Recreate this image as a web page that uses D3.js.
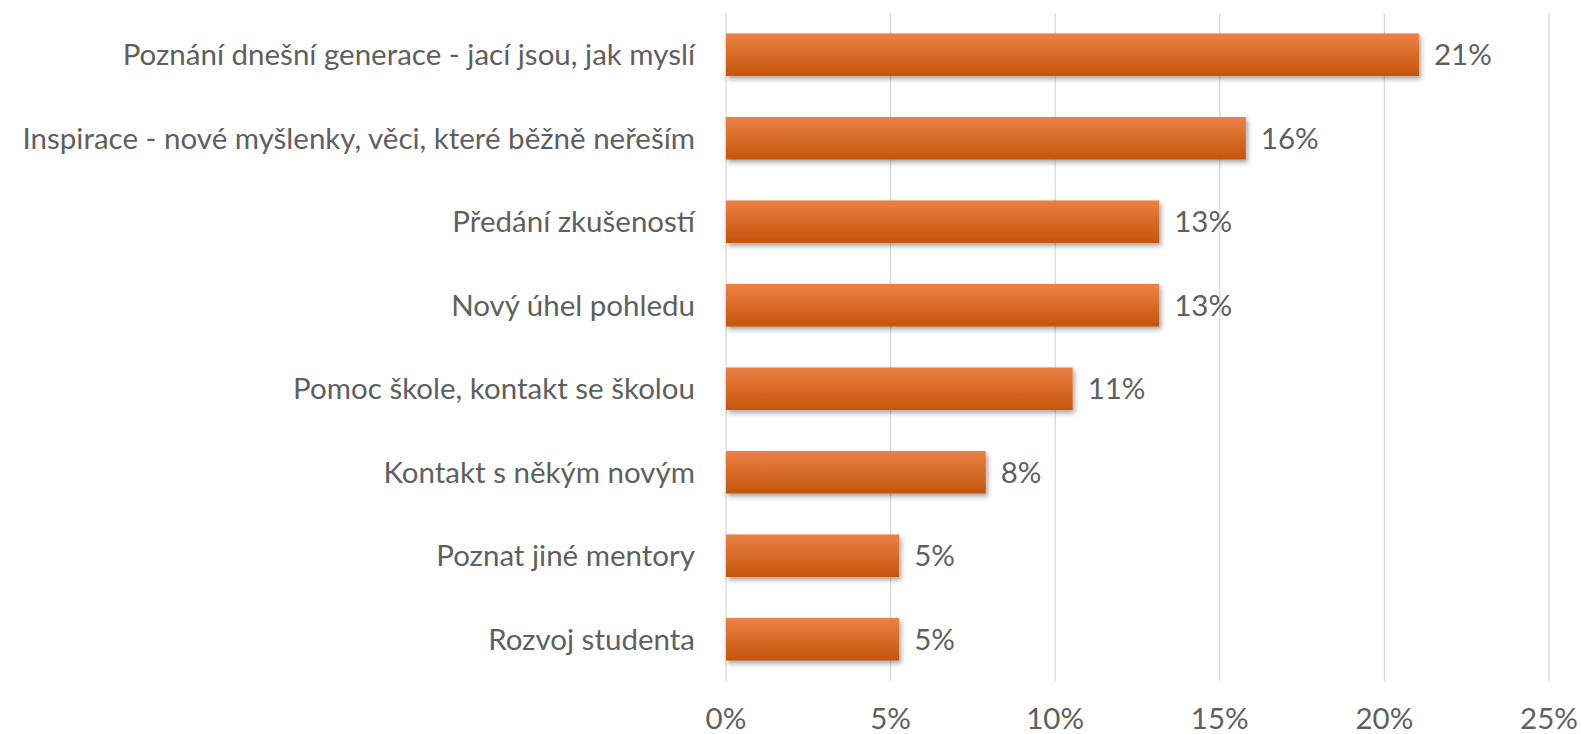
<!DOCTYPE html>
<html>
<head>
<meta charset="utf-8">
<script src="https://d3js.org/d3.v7.min.js"></script>
<style>
  html, body { margin: 0; padding: 0; background: #fff; }
  svg { display: block; font-family: "Lato", "Open Sans", sans-serif; }
</style>
</head>
<body>
<svg id="chart" width="1581" height="734"></svg>
<script>
// Data
const categories = [
    "Poznání dnešní generace - jací jsou, jak myslí",
    "Inspirace - nové myšlenky, věci, které běžně neřeším",
    "Předání zkušeností",
    "Nový úhel pohledu",
    "Pomoc škole, kontakt se školou",
    "Kontakt s někým novým",
    "Poznat jiné mentory",
    "Rozvoj studenta"
];
const values = [0.2105, 0.1579, 0.1316, 0.1316, 0.1053, 0.0789, 0.0526, 0.0526];
const xTicks = [0, 0.05, 0.10, 0.15, 0.20, 0.25];

const svg = d3.select("#chart");
const x0 = 726, x1 = 1549;
const plotTop = 13, plotBottom = 681;
const fontSize = 29.5;
const textColor = "#5f5f5f";

const x = d3.scaleLinear().domain([0, 0.25]).range([x0, x1]);
const y = d3.scaleBand().domain(categories).range([plotTop, plotBottom]).paddingInner(0.49).paddingOuter(0.245);

const defs = svg.append("defs");
const grad = defs.append("linearGradient")
    .attr("id", "barGrad").attr("x1", 0).attr("y1", 0).attr("x2", 0).attr("y2", 1);
grad.append("stop").attr("offset", "0%").attr("stop-color", "#ec8146");
grad.append("stop").attr("offset", "100%").attr("stop-color", "#c4550a");

const shadow = defs.append("filter").attr("id", "shadow")
    .attr("x", "-5%").attr("y", "-20%").attr("width", "115%").attr("height", "160%");
shadow.append("feDropShadow")
    .attr("dx", 2).attr("dy", 3).attr("stdDeviation", 2.5)
    .attr("flood-color", "#000").attr("flood-opacity", 0.35);

// grid lines
svg.append("g")
    .selectAll("line")
    .data(xTicks)
    .join("line")
    .attr("x1", d => x(d)).attr("x2", d => x(d))
    .attr("y1", plotTop).attr("y2", plotBottom)
    .attr("stroke", "#d9d9d9")
    .attr("stroke-width", 1.3);

// bars
svg.append("g")
    .selectAll("rect")
    .data(values)
    .join("rect")
    .attr("x", x(0))
    .attr("y", (d, i) => y(categories[i]))
    .attr("width", d => x(d) - x(0))
    .attr("height", y.bandwidth())
    .attr("fill", "url(#barGrad)")
    .attr("filter", "url(#shadow)");

// value labels
svg.append("g")
    .selectAll("text")
    .data(values)
    .join("text")
    .attr("x", d => x(d) + 15)
    .attr("y", (d, i) => y(categories[i]) + y.bandwidth() / 2)
    .attr("dy", "0.35em")
    .attr("font-size", fontSize)
    .attr("fill", textColor)
    .text(d => d3.format(".0%")(d));

// category labels
svg.append("g")
    .selectAll("text")
    .data(categories)
    .join("text")
    .attr("x", 695)
    .attr("y", d => y(d) + y.bandwidth() / 2)
    .attr("dy", "0.35em")
    .attr("text-anchor", "end")
    .attr("font-size", fontSize)
    .attr("fill", textColor)
    .text(d => d);

// x axis tick labels
svg.append("g")
    .selectAll("text")
    .data(xTicks)
    .join("text")
    .attr("x", d => x(d))
    .attr("y", 729)
    .attr("text-anchor", "middle")
    .attr("font-size", fontSize)
    .attr("fill", textColor)
    .text(d => d3.format(".0%")(d));
</script>
</body>
</html>
